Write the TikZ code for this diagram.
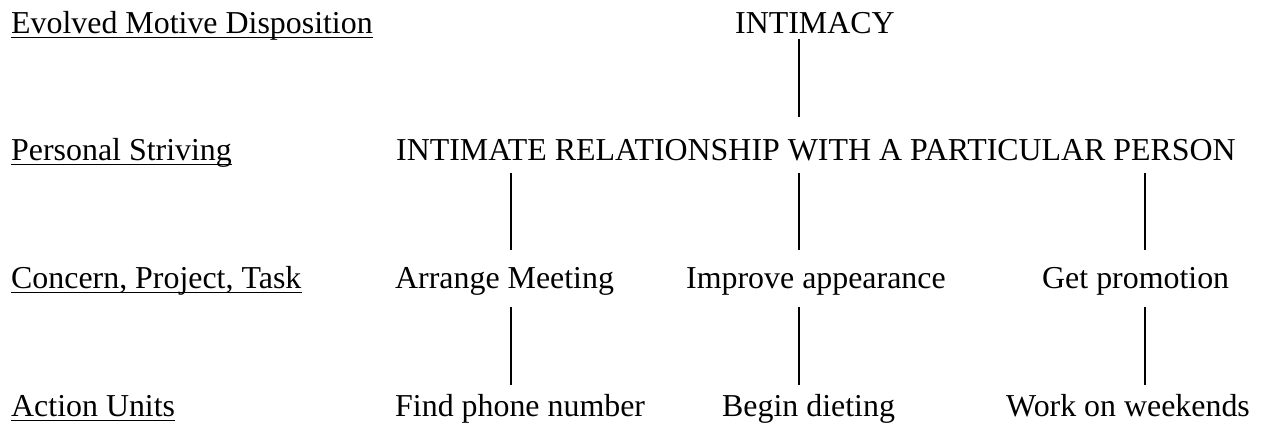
\documentclass[tikz,border=0pt]{standalone}
\usepackage{fontspec}
\setmainfont{Liberation Serif}
\begin{document}
\begin{tikzpicture}[
    x=1pt, y=-1pt,
    txt/.style={anchor=base west, inner sep=0pt, font=\fontsize{31.9}{36}\selectfont},
    uline/.style={line width=1.8pt},
    link/.style={line width=1.3pt}
]
  \useasboundingbox (0,0) rectangle (1265,423);

  % Level labels
  \node[txt] (lvlmotive)  at (11,33)  {Evolved Motive Disposition};
  \node[txt] (lvlstrive)  at (11,160) {Personal Striving};
  \node[txt] (lvlconcern) at (11,288) {Concern, Project, Task};
  \node[txt] (lvlaction)  at (11,416) {Action Units};
  \foreach \n in {lvlmotive,lvlstrive,lvlconcern,lvlaction}
    \draw[uline] ([yshift=-4.5pt]\n.base west) -- ([yshift=-4.5pt]\n.base east);

  % Hierarchy
  \node[txt] (intimacy) at (735,33)  {INTIMACY};
  \node[txt] (relation) at (396,160) {INTIMATE RELATIONSHIP WITH A PARTICULAR PERSON};
  \node[txt] (meeting)  at (395,288) {Arrange Meeting};
  \node[txt] (appear)   at (686,288) {Improve appearance};
  \node[txt] (promo)    at (1042,288) {Get promotion};
  \node[txt] (phone)    at (395,416) {Find phone number};
  \node[txt] (diet)     at (722,416) {Begin dieting};
  \node[txt] (weekend)  at (1006,416) {Work on weekends};

  % Connectors
  \coordinate (topA) at (799,39);
  \coordinate (topB) at (799,117);
  \draw[link] (topA) -- (topB);
  \foreach \x/\n in {511/a,799/b,1145/c}{
    \coordinate (mid\n t) at (\x,173);
    \coordinate (mid\n b) at (\x,250);
    \coordinate (low\n t) at (\x,307);
    \coordinate (low\n b) at (\x,385);
    \draw[link] (mid\n t) -- (mid\n b);
    \draw[link] (low\n t) -- (low\n b);
  }
\end{tikzpicture}
\end{document}
